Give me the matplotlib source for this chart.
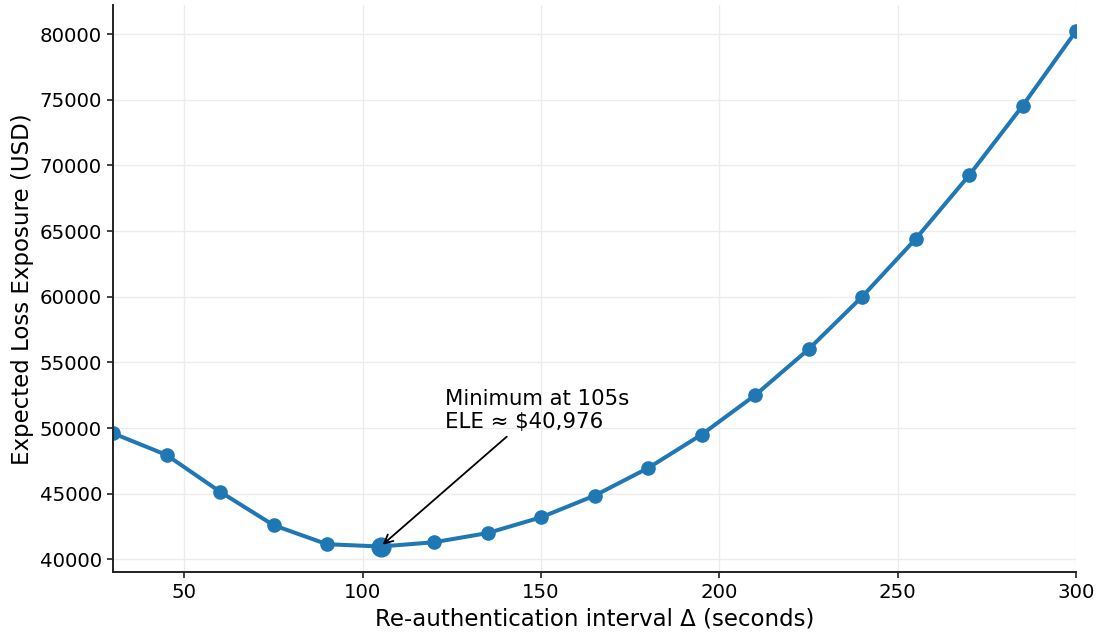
import matplotlib
matplotlib.use("Agg")
import matplotlib.pyplot as plt

# Re-authentication interval (s) and expected loss exposure (USD)
intervals = [30, 45, 60, 75, 90, 105, 120, 135, 150, 165, 180, 195, 210, 225, 240, 255, 270, 285, 300]
ele = [49600, 47950, 45150, 42600, 41150, 40976, 41300, 42000, 43200, 44850,
       46950, 49500, 52500, 56000, 60000, 64400, 69250, 74550, 80250]
best_x = 105
best_y = 40976

fig, ax = plt.subplots(figsize=(10.97, 6.38), dpi=100)
fig.subplots_adjust(left=0.103, right=0.981, top=0.992, bottom=0.103)

ax.plot(intervals, ele, color="#1f77b4", linewidth=2.9, marker="o", markersize=9.5)
ax.plot([best_x], [best_y], "o", color="#1f77b4", markersize=13.5)

ax.annotate(f"Minimum at {best_x}s\nELE \u2248 ${best_y:,}",
            xy=(best_x, best_y), xytext=(123, 50000), fontsize=15.3,
            arrowprops=dict(arrowstyle="->", color="black", lw=1.3))

ax.set_xlim(30, 300)
ax.set_xlabel("Re-authentication interval \u0394 (seconds)", fontsize=16.5)
ax.set_ylabel("Expected Loss Exposure (USD)", fontsize=16.5)
ax.tick_params(labelsize=14.2, length=4.5, width=1.2, color="#222222")
ax.grid(True, color="#ececec", linewidth=1.0)
for side in ["left", "bottom"]:
    ax.spines[side].set_linewidth(1.4)
    ax.spines[side].set_color("#222222")
ax.spines["top"].set_visible(False)
ax.spines["right"].set_visible(False)

plt.savefig("out.png", dpi=100)
